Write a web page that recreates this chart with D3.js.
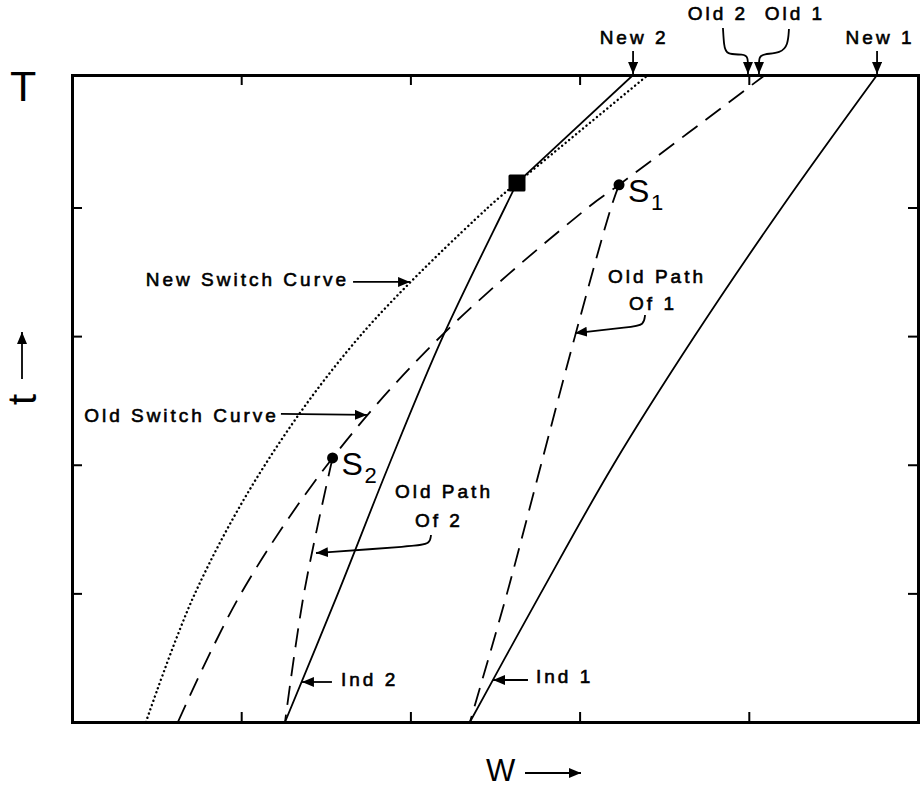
<!DOCTYPE html>
<html>
<head>
<meta charset="utf-8">
<script src="https://cdn.jsdelivr.net/npm/d3@7"></script>
<style>
  body { margin: 0; background: #fff; }
  svg { display: block; }
  text { font-family: "Liberation Sans", Arial, Helvetica, sans-serif; fill: #000; }
</style>
</head>
<body>
<svg id="chart" width="921" height="788"></svg>
<script>
// ---- Data: wealth (W) against time (t); each series is a list of [w, t] pairs ----
const tickW = [1, 2, 3, 4];
const tickT = [1, 2, 3, 4];
const horizonT = 5.03;            // terminal time T

// individual 1, new optimal path
const ind1 = [[2.352, 0], [2.560, 0.5], [2.770, 1], [3.200, 2], [3.680, 3], [4.195, 4], [4.758, 5.03]];
// individual 2, new optimal path: up to the switch, then after it
const ind2Before = [[1.259, 0], [1.572, 1], [1.874, 2], [2.193, 3], [2.559, 4], [2.630, 4.191]];
const ind2After = [[2.630, 4.191], [3.316, 5.03]];
// new switch curve (dotted)
const newSwitchBefore = [[0.437, 0], [0.727, 1], [1.141, 2], [1.702, 3], [2.459, 4], [2.630, 4.191]];
const newSwitchAfter = [[2.630, 4.191], [3.404, 5.03]];
// old switch curve (dashed), passing through both old switch points
const oldSwitch = [[0.626, 0], [0.999, 1], [1.540, 2.053], [2.181, 3], [3.050, 4], [3.233, 4.176], [4.096, 5.03]];
// old paths up to the old switch points
const oldPath1 = [[2.352, 0], [2.571, 1], [2.772, 2], [2.973, 3], [3.186, 4], [3.233, 4.176]];
const oldPath2 = [[1.259, 0], [1.371, 1], [1.540, 2.053]];
// marked points
const switchNew = [2.630, 4.191];
const switchOld1 = [3.233, 4.176];
const switchOld2 = [1.540, 2.053];
// terminal wealth of the old paths
const oldEnd2W = 3.995;
const oldEnd1W = 4.060;

// ---- Layout ----
const svg = d3.select("#chart");
const x = d3.scaleLinear().domain([0, 5]).range([72, 918]);
const y = d3.scaleLinear().domain([0, horizonT]).range([722, 75]);

const defs = svg.append("defs");
defs.append("clipPath").attr("id", "plotClip")
  .append("rect").attr("x", x(0)).attr("y", y(horizonT))
  .attr("width", x(5) - x(0)).attr("height", y(0) - y(horizonT));
defs.append("marker")
  .attr("id", "head").attr("viewBox", "0 0 12 10")
  .attr("refX", 12).attr("refY", 5)
  .attr("markerWidth", 12).attr("markerHeight", 10)
  .attr("markerUnits", "userSpaceOnUse").attr("orient", "auto")
  .append("path").attr("d", "M0,0 L12,5 L0,10 Z").attr("fill", "#000");

// frame with inward ticks on all four sides
function styleAxis(g) {
  g.select(".domain").attr("stroke-width", 3).attr("stroke-linecap", "square");
  g.selectAll(".tick line").attr("stroke-width", 2);
}
svg.append("g").attr("transform", `translate(0,${y(0)})`)
  .call(d3.axisBottom(x).tickValues(tickW).tickSizeInner(-10).tickSizeOuter(0).tickFormat(""))
  .call(styleAxis);
svg.append("g").attr("transform", `translate(0,${y(horizonT)})`)
  .call(d3.axisTop(x).tickValues(tickW).tickSizeInner(-10).tickSizeOuter(0).tickFormat(""))
  .call(styleAxis);
svg.append("g").attr("transform", `translate(${x(0)},0)`)
  .call(d3.axisLeft(y).tickValues(tickT).tickSizeInner(-10).tickSizeOuter(0).tickFormat(""))
  .call(styleAxis);
svg.append("g").attr("transform", `translate(${x(5)},0)`)
  .call(d3.axisRight(y).tickValues(tickT).tickSizeInner(-10).tickSizeOuter(0).tickFormat(""))
  .call(styleAxis);

// ---- Curves ----
const curved = d3.line().x(d => x(d[0])).y(d => y(d[1])).curve(d3.curveCatmullRom.alpha(0.5));
const straight = d3.line().x(d => x(d[0])).y(d => y(d[1]));
const plot = svg.append("g").attr("clip-path", "url(#plotClip)")
  .attr("fill", "none").attr("stroke", "#000");

const solid = { w: 1.8, dash: null };
const dashed = { w: 1.8, dash: "19,10" };
const dotted = { w: 2.4, dash: "0.1,4.4", cap: "round" };
const series = [
  [ind1, curved, solid],
  [ind2Before, curved, solid],
  [ind2After, straight, solid],
  [newSwitchBefore, curved, dotted],
  [newSwitchAfter, straight, dotted],
  [oldSwitch, curved, dashed],
  [oldPath1.slice().reverse(), curved, dashed],
  [oldPath2.slice().reverse(), curved, dashed]
];
series.forEach(([pts, gen, st]) => {
  plot.append("path").attr("d", gen(pts))
    .attr("stroke-width", st.w)
    .attr("stroke-dasharray", st.dash)
    .attr("stroke-linecap", st.cap || "butt");
});

// switch points
svg.append("rect")
  .attr("x", x(switchNew[0]) - 8.5).attr("y", y(switchNew[1]) - 8.5)
  .attr("width", 17).attr("height", 17).attr("rx", 1.5).attr("fill", "#000");
[switchOld1, switchOld2].forEach(p => {
  svg.append("circle").attr("cx", x(p[0])).attr("cy", y(p[1])).attr("r", 5.5).attr("fill", "#000");
});

// S labels
function sLabel(p, sub) {
  const px = x(p[0]), py = y(p[1]);
  svg.append("text").attr("x", px + 9).attr("y", py + 17).attr("font-size", 32).text("S");
  svg.append("text").attr("x", px + 32).attr("y", py + 25).attr("font-size", 22).text(sub);
}
sLabel(switchOld1, "1");
sLabel(switchOld2, "2");

// ---- Annotations ----
const ann = svg.append("g");
const labelStyle = t => t.attr("font-size", 19).attr("letter-spacing", 3)
  .attr("stroke", "#000").attr("stroke-width", 0.6);

function arrow(pts) {
  ann.append("path").attr("d", d3.line().curve(d3.curveBasis)(pts))
    .attr("fill", "none").attr("stroke", "#000").attr("stroke-width", 1.8)
    .attr("marker-end", "url(#head)");
}
function label(txt, px, py, anchor) {
  ann.append("text").attr("x", px).attr("y", py).attr("text-anchor", anchor || "start")
    .text(txt).call(labelStyle);
}

// terminal wealth labels along the top
{
  const tipY = y(horizonT);
  const n2 = x(ind2After[1][0]), n1 = x(ind1[ind1.length - 1][0]);
  arrow([[n2, tipY - 24], [n2, tipY - 1]]);
  label("New 2", n2 + 1, tipY - 31, "middle");
  arrow([[n1, tipY - 24], [n1, tipY - 1]]);
  label("New 1", n1 + 3, tipY - 31, "middle");

  const o2 = x(oldEnd2W), o1 = x(oldEnd1W);
  arrow([[o2 - 25, tipY - 47], [o2 - 24, tipY - 30], [o2 - 22, tipY - 20], [o2 - 4, tipY - 21],
         [o2, tipY - 18], [o2, tipY - 8], [o2, tipY - 1]]);
  label("Old 2", o2 - 30, tipY - 55, "middle");
  arrow([[o1 + 30, tipY - 46], [o1 + 29, tipY - 30], [o1 + 22, tipY - 22], [o1 + 4, tipY - 21],
         [o1, tipY - 18], [o1, tipY - 8], [o1, tipY - 1]]);
  label("Old 1", o1 + 36, tipY - 55, "middle");
}

// curve labels with pointers
{
  const tip = [x(1.998), y(3.421)];
  arrow([[tip[0] - 57, tip[1]], tip]);
  label("New Switch Curve", tip[0] - 61, tip[1] + 4, "end");
}
{
  const tip = [x(1.743), y(2.387)];
  arrow([[tip[0] - 86, tip[1] - 1], tip]);
  label("Old Switch Curve", tip[0] - 88, tip[1] + 7, "end");
}
{
  const tip = [x(1.442), y(1.314)];
  arrow([[tip[0] + 115, tip[1] - 18], [tip[0] + 114, tip[1] - 9], [tip[0] + 100, tip[1] - 7], tip]);
  label("Old Path", tip[0] + 128, tip[1] - 55, "middle");
  label("Of 2", tip[0] + 123, tip[1] - 26, "middle");
}
{
  const tip = [x(2.973), y(3.024)];
  arrow([[tip[0] + 70, tip[1] - 18], [tip[0] + 69, tip[1] - 8], [tip[0] + 56, tip[1] - 6], tip]);
  label("Old Path", tip[0] + 82, tip[1] - 50, "middle");
  label("Of 1", tip[0] + 78, tip[1] - 23, "middle");
}
{
  const tip = [x(1.359), y(0.311)];
  arrow([[tip[0] + 30, tip[1]], tip]);
  label("Ind 2", tip[0] + 39, tip[1] + 4);
}
{
  const tip = [x(2.488), y(0.3265)];
  arrow([[tip[0] + 35, tip[1]], tip]);
  label("Ind 1", tip[0] + 43, tip[1] + 3);
}

// ---- Axis titles ----
svg.append("text").attr("x", 10).attr("y", 101).attr("font-size", 43).text("T");
svg.append("text").attr("x", 486).attr("y", 781).attr("font-size", 31).text("W");
arrow([[525, 773], [581, 773]]);
svg.append("text").attr("transform", "translate(36,405) rotate(-90)")
  .attr("font-size", 40).text("t");
arrow([[22, 379], [22, 332]]);
</script>
</body>
</html>
